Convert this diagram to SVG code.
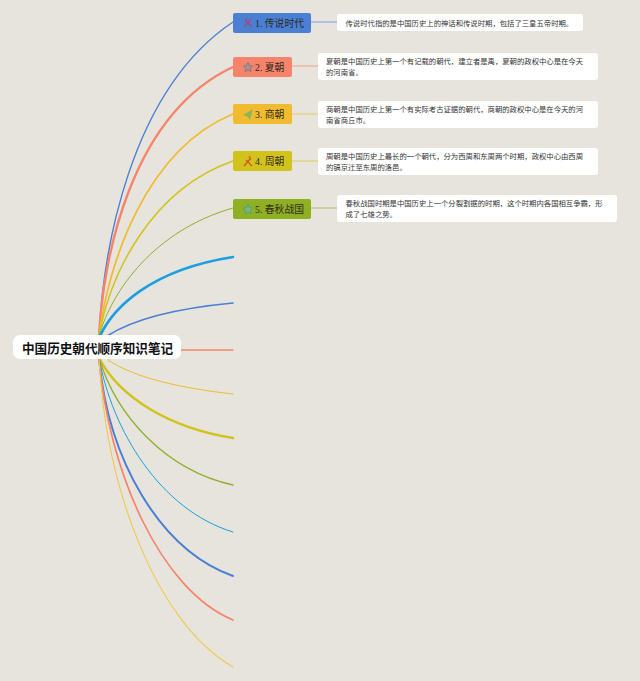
<svg xmlns="http://www.w3.org/2000/svg" width="640" height="681" viewBox="0 0 640 681">
<style>
.c{fill:none;stroke-linecap:round}
.t{font-family:"Liberation Serif","Noto Sans CJK SC",serif;font-size:9.800px;fill:#2e2a20}
.d{font-family:"Noto Sans CJK SC","Liberation Sans",sans-serif;font-size:7.350px;fill:#333}
.b{fill:#fff}
.r{font-family:"Noto Sans CJK SC","Liberation Sans",sans-serif;font-size:12.600px;font-weight:700;fill:#111}
.i{fill:none;stroke-width:1.2}
</style>
<rect width="640" height="681" fill="#e7e4dd"/>
<g id="connectors">
<path class="c" d="M99 336C103 255 128 92 233 22" stroke="#4a80d4" stroke-width="1.400"/>
<path class="c" d="M99 336C103 260 130 115 233 67" stroke="#f6846a" stroke-width="2.400"/>
<path class="c" d="M99 336C108 265 145 150 233 114" stroke="#f1bb2f" stroke-width="1.700"/>
<path class="c" d="M99 336C110 275 150 190 233 161" stroke="#d2c31c" stroke-width="1.500"/>
<path class="c" d="M99 336C112 290 155 230 233 208" stroke="#8fb02e" stroke-width="1"/>
<path class="c" d="M100 336C113 308 150 270 233 257" stroke="#1a9fe0" stroke-width="2.600"/>
<path class="c" d="M107 336C135 318 180 308 233 303" stroke="#4a80d4" stroke-width="1.700"/>
<path class="c" d="M180 350H233" stroke="#f6846a" stroke-width="1.300"/>
<path class="c" d="M108 360C135 378 180 388 233 394" stroke="#f1bb2f" stroke-width="1"/>
<path class="c" d="M99 358C120 398 170 428 233 438" stroke="#d2c31c" stroke-width="2.600"/>
<path class="c" d="M99 358C116 415 165 470 233 485" stroke="#8fb02e" stroke-width="1.300"/>
<path class="c" d="M99 358C112 430 160 510 233 532" stroke="#1a9fe0" stroke-width="1"/>
<path class="c" d="M99 358C108 460 160 550 233 576" stroke="#4a80d4" stroke-width="2"/>
<path class="c" d="M99 358C108 470 160 590 233 620" stroke="#f6846a" stroke-width="1.700"/>
<path class="c" d="M99 358C106 490 156 622 233 667" stroke="#f1c94a" stroke-width="1.100"/>
<path class="c" d="M311 22H337" stroke="#4a80d4" stroke-width=".7"/>
<path class="c" d="M292 66H318" stroke="#f6846a" stroke-width=".7"/>
<path class="c" d="M292 114H318" stroke="#f1bb2f" stroke-width=".7"/>
<path class="c" d="M292 161H318" stroke="#d2c31c" stroke-width=".7"/>
<path class="c" d="M311 208H337" stroke="#8fb02e" stroke-width=".7"/>
</g>
<g id="root"><rect x="13" y="335" width="168" height="24" rx="7" fill="#fff"/><text class="r" x="97.500" y="352.500" text-anchor="middle">中国历史朝代顺序知识笔记</text></g>
<g id="n1"><rect x="233" y="13" width="78" height="20" rx="2" fill="#4a80d4"/><path class="i" stroke="#a6457a" d="M244 27L251 19M245 20L252 27M247 18l-1 2"/><text class="t" x="255" y="26.500">1. 传说时代</text></g>
<g id="n2"><rect x="233" y="57" width="59" height="20" rx="2" fill="#f6846a"/><path fill="#b98a80" stroke="#76809a" d="M248 62.500l1.500 3 3.300.5-2.400 2.300.5 3.300-2.900-1.500-2.900 1.500.5-3.300-2.400-2.300 3.300-.5z"/><text class="t" x="255" y="70.500">2. 夏朝</text></g>
<g id="n3"><rect x="233" y="104" width="59" height="20" rx="2" fill="#f1bb2f"/><path d="M243 115l10-6-3 11-2-3z" fill="#8fb55a"/><text class="t" x="255" y="118">3. 商朝</text></g>
<g id="n4"><rect x="233" y="151" width="59" height="20" rx="2" fill="#d2c31c"/><path class="i" stroke="#d2502a" d="M244 166L251 158M246 160L252 166M250 156l-1 2"/><text class="t" x="255" y="165">4. 周朝</text></g>
<g id="n5"><rect x="233" y="199" width="78" height="20" rx="2" fill="#8fb022"/><path fill="#8fb060" stroke="#3aa5a0" d="M248 204.500l1.500 3 3.300.5-2.400 2.300.5 3.300-2.900-1.500-2.900 1.500.5-3.300-2.400-2.300 3.300-.5z"/><text class="t" x="255" y="212.500">5. 春秋战国</text></g>
<g id="d1"><rect x="337" y="14" width="246" height="17" rx="3" class="b"/><text class="d" x="345.500" y="25.500">传说时代指的是中国历史上的神话和传说时期，包括了三皇五帝时期。</text></g>
<g id="d2"><rect x="318" y="53" width="280" height="27" rx="3" class="b"/><text class="d" x="326" y="64">夏朝是中国历史上第一个有记载的朝代，建立者是禹，夏朝的政权中心是在今天</text><text class="d" x="326" y="75">的河南省。</text></g>
<g id="d3"><rect x="318" y="101" width="280" height="27" rx="3" class="b"/><text class="d" x="326" y="112">商朝是中国历史上第一个有实际考古证据的朝代，商朝的政权中心是在今天的河</text><text class="d" x="326" y="123">南省商丘市。</text></g>
<g id="d4"><rect x="318" y="148" width="280" height="27" rx="3" class="b"/><text class="d" x="326" y="159">周朝是中国历史上最长的一个朝代，分为西周和东周两个时期，政权中心由西周</text><text class="d" x="326" y="170">的镐京迁至东周的洛邑。</text></g>
<g id="d5"><rect x="337" y="195" width="280" height="27" rx="3" class="b"/><text class="d" x="345.500" y="206">春秋战国时期是中国历史上一个分裂割据的时期，这个时期内各国相互争霸，形</text><text class="d" x="345.500" y="217">成了七雄之势。</text></g>
</svg>
